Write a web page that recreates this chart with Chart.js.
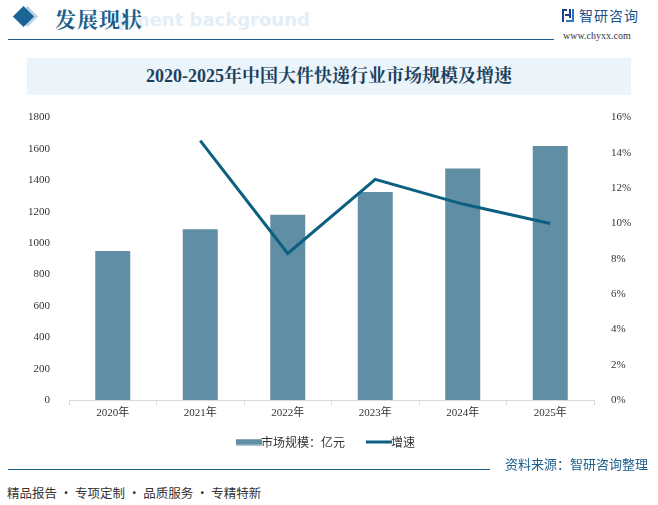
<!DOCTYPE html>
<html>
<head>
<meta charset="utf-8">
<script src="https://cdn.jsdelivr.net/npm/chart.js@4.4.0/dist/chart.umd.min.js"></script>
<style>
  html, body { margin: 0; padding: 0; background: #fff; }
  body { width: 658px; height: 505px; position: relative; overflow: hidden;
         font-family: "Noto Sans CJK SC", sans-serif; }
  .abs { position: absolute; }
  #diamond2 { left: 20px; top: 9px; width: 15px; height: 15px; background: #b9d3e6; transform: rotate(45deg); }
  #diamond { left: 16px; top: 9px; width: 15px; height: 15px; background: #1a6496; transform: rotate(45deg); }
  #head { left: 55px; top: 3px; font-size: 21px; color: #1b5f8c; font-family: "Noto Serif CJK SC", "Noto Sans CJK SC", serif; font-weight: bold; letter-spacing: 1px; }
  #ghost { left: 118px; top: 9px; font-size: 18px; color: #e3eef6; font-family: "DejaVu Sans", sans-serif; font-weight: bold; }
  #hline { left: 8px; top: 39px; width: 546px; height: 1px; background: #1b5f8c; }
  #logo { left: 562px; top: 9px; width: 12px; height: 13px; }
  #logotxt { left: 579px; top: 5px; font-size: 14px; color: #1b4f8c; letter-spacing: 1px; }
  #www { left: 563px; top: 30px; font-size: 10px; color: #334; font-family: "Liberation Serif", serif; }
  #banner { left: 27px; top: 58px; width: 604px; height: 37px; background: #eaf4fa; }
  #title { left: 27px; top: 58px; width: 604px; height: 37px; line-height: 37px; text-align: center;
           font-size: 18px; font-weight: bold; color: #1c3f5e; font-family: "Liberation Serif", "Noto Serif CJK SC", "Noto Sans CJK SC", serif; }
  #wrap { left: 0; top: 100px; width: 658px; height: 358px; }
  #fline { left: 8px; top: 469px; width: 482px; height: 1px; background: #1b5f8c; }
  #source { left: 505px; top: 454px; font-size: 13px; color: #1b5f8c; }
  #slogan { left: 7px; top: 483px; font-size: 12.5px; color: #333; }
</style>
</head>
<body>
<div class="abs" id="diamond2"></div>
<div class="abs" id="diamond"></div>
<div class="abs" id="ghost">pment background</div>
<div class="abs" id="head">发展现状</div>
<div class="abs" id="hline"></div>
<svg class="abs" id="logo" viewBox="0 0 12 13">
  <rect x="0" y="0" width="5" height="2" fill="#1b3f8c"/>
  <rect x="0" y="0" width="2" height="13" fill="#1b3f8c"/>
  <rect x="3" y="5" width="4" height="2" fill="#1b3f8c"/>
  <rect x="7" y="0" width="2" height="9" fill="#1b3f8c"/>
  <rect x="10" y="0" width="2" height="13" fill="#2a78c8"/>
  <rect x="4" y="11" width="8" height="2" fill="#2a78c8"/>
</svg>
<div class="abs" id="logotxt">智研咨询</div>
<div class="abs" id="www">www.chyxx.com</div>
<div class="abs" id="banner"></div>
<div class="abs" id="title">2020-2025年中国大件快递行业市场规模及增速</div>
<div class="abs" id="wrap"><canvas id="c"></canvas></div>
<div class="abs" id="fline"></div>
<div class="abs" id="source">资料来源：智研咨询整理</div>
<div class="abs" id="slogan">精品报告 · 专项定制 · 品质服务 · 专精特新</div>

<script>
const years = ['2020年', '2021年', '2022年', '2023年', '2024年', '2025年'];
const marketSize = [950, 1088, 1181, 1325, 1475, 1619]; // 亿元
const growth = [null, 14.7, 8.3, 12.5, 11.1, 10.0];      // %

const barColor = '#5f8ea5';
const lineColor = '#0b5f80';

// little legend swatches: a flat bar and a thin line
function swatch(h, color) {
  const c = document.createElement('canvas');
  c.width = 26; c.height = 7;
  const g = c.getContext('2d');
  g.fillStyle = color;
  g.fillRect(0, (7 - h) / 2, 26, h);
  return c;
}
const barSwatch = swatch(6, barColor);
const lineSwatch = swatch(3, lineColor);

const tickFont = { family: '"Liberation Serif", "Noto Sans CJK SC", serif', size: 11 };

const chart = new Chart(document.getElementById('c'), {
  data: {
    labels: years,
    datasets: [{
      type: 'line',
      label: '增速',
      data: growth,
      yAxisID: 'y1',
      borderColor: lineColor,
      backgroundColor: lineColor,
      borderWidth: 3,
      pointRadius: 0,
      tension: 0,
      order: 0
    }, {
      type: 'bar',
      label: '市场规模：亿元',
      data: marketSize,
      yAxisID: 'y',
      backgroundColor: barColor,
      categoryPercentage: 0.4,
      barPercentage: 1,
      order: 1
    }]
  },
  options: {
    responsive: true,
    maintainAspectRatio: false,
    animation: false,
    layout: { padding: { top: 9, left: 0, right: 0, bottom: 0 } },
    scales: {
      x: {
        grid: { display: true, drawOnChartArea: false, color: '#d9d9d9', tickLength: 5, offset: true },
        border: { color: '#d9d9d9' },
        ticks: { color: '#333', font: tickFont, padding: 2 },
        afterFit: s => { s.height = 24; }
      },
      y: {
        position: 'left',
        min: 0, max: 1800,
        ticks: { stepSize: 200, color: '#333', font: tickFont, padding: 11, callback: v => String(v) },
        grid: { display: false },
        border: { display: false },
        afterFit: s => { s.width = 69; }
      },
      y1: {
        position: 'right',
        min: 0, max: 16,
        ticks: { stepSize: 2, color: '#333', font: tickFont, padding: 9, callback: v => v + '%' },
        grid: { display: false },
        border: { display: false },
        afterFit: s => { s.width = 64; }
      }
    },
    plugins: {
      legend: {
        position: 'bottom',
        reverse: true,
        labels: {
          usePointStyle: true,
          padding: 12,
          color: '#333',
          font: { family: '"Noto Sans CJK SC", sans-serif', size: 12 },
          generateLabels: ch => {
            const items = Chart.defaults.plugins.legend.labels.generateLabels(ch);
            items.forEach(it => {
              const isBar = ch.data.datasets[it.datasetIndex].type === 'bar';
              it.pointStyle = isBar ? barSwatch : lineSwatch;
              if (isBar) it.text += '      '; // extra room before the next entry
            });
            return items;
          }
        }
      },
      tooltip: { enabled: false }
    }
  }
});
</script>
</body>
</html>
